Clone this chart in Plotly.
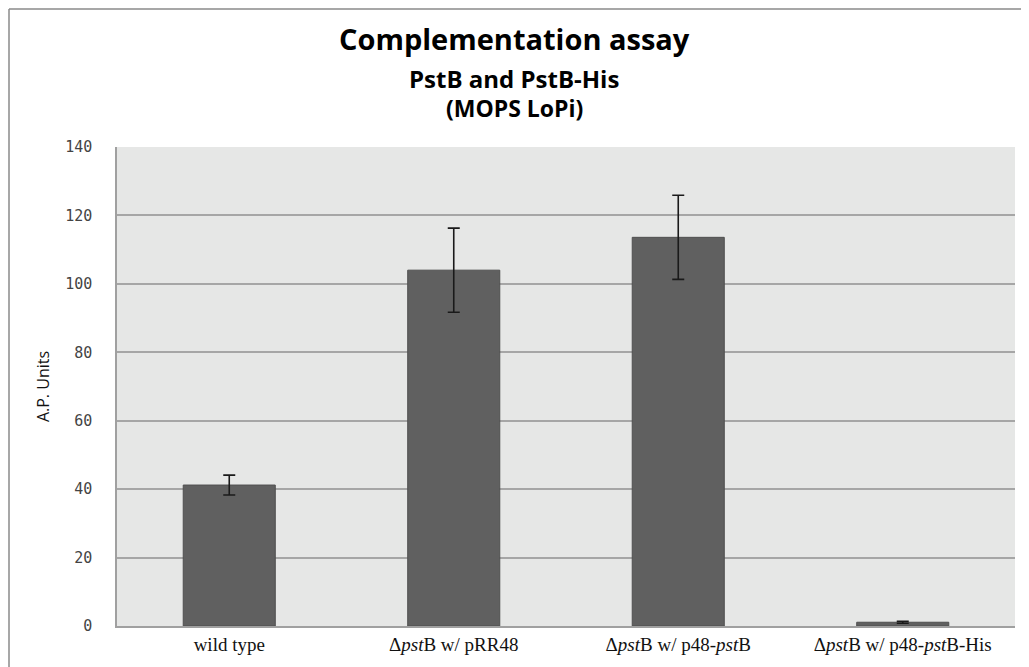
import plotly.graph_objects as go

categories = ["wild type",
              "Δ<i>pst</i>B w/ pRR48",
              "Δ<i>pst</i>B w/ p48-<i>pst</i>B",
              "Δ<i>pst</i>B w/ p48-<i>pst</i>B-His"]
values = [41.2, 104.0, 113.6, 1.1]
errors = [2.9, 12.3, 12.3, 0.3]
y_ticks = [0, 20, 40, 60, 80, 100, 120, 140]

# page body has an 8px margin; compensate so the plot lands where the reference has it
OFF = 8
W, H = 1029 - OFF, 667 - OFF
L, R, T, B = 117 - OFF, 14, 147 - OFF, 41
PW, PH = W - L - R, H - T - B

fig = go.Figure()
fig.add_trace(go.Bar(
    x=categories, y=values,
    width=0.41,
    marker=dict(color="#606060", line=dict(color="#4f4f4f", width=1)),
    error_y=dict(type="data", array=errors, visible=True,
                 color="#1a1a1a", thickness=1.6, width=6),
))

fig.update_layout(
    width=W, height=H,
    margin=dict(l=L, r=R, t=T, b=B),
    paper_bgcolor="white",
    plot_bgcolor="#e6e7e6",
    showlegend=False,
    xaxis=dict(
        showline=True, linecolor="#a0a0a0", linewidth=1.5,
        tickfont=dict(family="Liberation Serif", size=19, color="#111"),
        ticks="", showgrid=False,
    ),
    yaxis=dict(
        range=[0, 140], tickvals=y_ticks,
        showline=True, linecolor="#a0a0a0", linewidth=1.5,
        showgrid=True, gridcolor="#a6a6a6", gridwidth=1.5,
        tickfont=dict(family="DejaVu Sans Mono", size=15, color="#444"),
        ticklabelstandoff=20,
        zeroline=False,
        title=dict(text="A.P. Units", font=dict(family="Open Sans", size=16, color="#111"), standoff=12),
    ),
)


def title_line(text, ypx, size):
    fig.add_annotation(
        text="<b>%s</b>" % text,
        xref="paper", yref="paper",
        x=(514 - OFF - L) / PW,
        y=(626 - ypx) / PH,
        xanchor="center", yanchor="middle",
        showarrow=False,
        font=dict(family="Open Sans", size=size, color="black"),
    )


title_line("Complementation assay", 38, 29)
title_line("PstB and PstB-His", 78, 24)
title_line("(MOPS LoPi)", 108, 23)

# outer chart frame: only left and top edges are visible in the reference
fx0 = (1 - L) / PW
fy1 = (H - 1 - B) / PH
frame = dict(color="#8a8a8a", width=1.5)
fig.add_shape(type="line", xref="paper", yref="paper",
              x0=fx0, x1=fx0, y0=-B / PH, y1=fy1, line=frame, layer="below")
fig.add_shape(type="line", xref="paper", yref="paper",
              x0=fx0, x1=(W - L) / PW, y0=fy1, y1=fy1, line=frame, layer="below")

fig.write_html("out.html")
